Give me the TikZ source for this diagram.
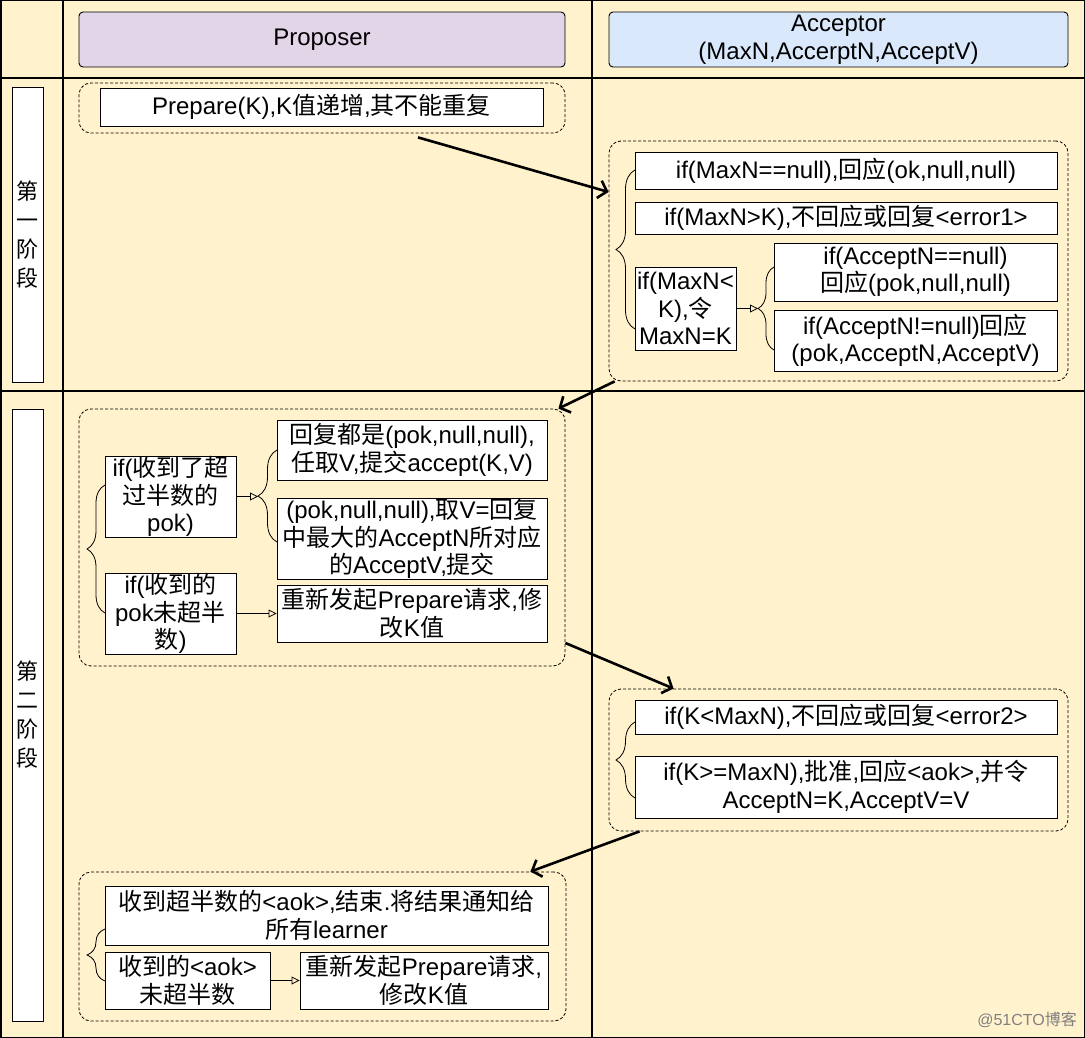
\documentclass[tikz,border=0pt]{standalone}
\usepackage{fontspec}
\setmainfont{Liberation Sans}
\newfontfamily\cjkfont{Noto Sans CJK SC}
\newcommand\zhx[1]{{\cjkfont #1}}
\usetikzlibrary{arrows.meta,decorations.pathreplacing}
\definecolor{bgy}{HTML}{FFF2CC}
\definecolor{pur}{HTML}{E1D5E7}
\definecolor{blu}{HTML}{DAE8FC}
\begin{document}
\begin{tikzpicture}[x=1pt,y=-1pt,
 txt/.style={font=\fontsize{24}{27.5}\selectfont},
 bx/.style={draw,fill=white,line width=0.9pt,align=center,inner sep=0pt,txt},
 hdr/.style={draw,rounded corners=4pt,line width=0.9pt,align=center,inner sep=0pt,txt},
 grp/.style={draw,dash pattern=on 3pt off 2pt,rounded corners=12pt,line width=0.8pt,inner sep=0pt},
 lab/.style={draw,fill=white,line width=1pt,align=center,inner sep=0pt,font=\fontsize{22}{29}\selectfont\cjkfont},
 big/.style={line width=2.6pt,-{Straight Barb[length=8pt,width=18pt]}},
 sm/.style={line width=0.8pt,-{Triangle[open,length=8pt,width=8pt]}},
 brc/.style={decorate,line width=0.8pt,decoration={brace,amplitude=#1}}
]
\useasboundingbox (0,0) rectangle (1085,1038);
% background grid
\fill[bgy] (0,0) rectangle (1085,1038);
\draw[line width=1.5pt] (0.75,0.75) rectangle (1084.25,1037.25);
\draw[line width=1.3pt] (63,0) -- (63,1038) (592,0) -- (592,1038)
  (0,78) -- (1085,78) (0,391) -- (1085,391);
% headers
\node[hdr,fill=pur,minimum width=486pt,minimum height=55pt] (hp) at (322,39.5) {Proposer};
\node[hdr,fill=blu,minimum width=459pt,minimum height=55pt] (ha) at (838.5,39.5) {Acceptor\\(MaxN,AccerptN,AcceptV)};
% phase labels
\node[lab,minimum width=31pt,minimum height=294pt] (l1) at (27.5,235) {第\\一\\阶\\段};
\node[lab,minimum width=31pt,minimum height=612pt] (l2) at (27.5,715) {第\\二\\阶\\段};
% groups
\node[grp,minimum width=486pt,minimum height=50pt] (d1) at (322,108) {};
\node[grp,minimum width=459pt,minimum height=240pt] (d2) at (838.5,261) {};
\node[grp,minimum width=486pt,minimum height=257pt] (d3) at (322,537.5) {};
\node[grp,minimum width=459pt,minimum height=142pt] (d4) at (838.5,760) {};
\node[grp,minimum width=487pt,minimum height=149pt] (d5) at (322.5,946.5) {};
% phase 1
\node[bx,minimum width=443pt,minimum height=38pt] (p1) at (321.5,107) {Prepare(K),K\zhx{值递增},\zhx{其不能重复}};
\node[bx,minimum width=422pt,minimum height=37pt] (a1) at (846,170.5) {if(MaxN==null),\zhx{回应}(ok,null,null)};
\node[bx,minimum width=422pt,minimum height=32pt] (a2) at (846,218) {if(MaxN>K),\zhx{不回应或回复}<error1>};
\node[bx,minimum width=101pt,minimum height=83pt] (a3) at (685.5,308.5) {if(MaxN<\\K),\zhx{令}\\MaxN=K};
\node[bx,minimum width=283pt,minimum height=58pt] (a4) at (915.5,272) {if(AcceptN==null)\\\zhx{回应}(pok,null,null)};
\node[bx,minimum width=283pt,minimum height=61pt] (a5) at (915.5,340.5) {if(AcceptN!=null)\zhx{回应}\\(pok,AcceptN,AcceptV)};
% phase 2 proposer
\node[bx,minimum width=131pt,minimum height=81pt] (q1) at (170.5,496.5) {if(\zhx{收到了超}\\\zhx{过半数的}\\pok)};
\node[bx,minimum width=270pt,minimum height=60pt] (q2) at (412,450) {\zhx{回复都是}(pok,null,null),\\\zhx{任取}V,\zhx{提交}accept(K,V)};
\node[bx,minimum width=270pt,minimum height=81pt] (q3) at (412,538.5) {(pok,null,null),\zhx{取}V=\zhx{回复}\\\zhx{中最大的}AcceptN\zhx{所对应}\\\zhx{的}AcceptV,\zhx{提交}};
\node[bx,minimum width=131pt,minimum height=81pt] (q4) at (170.5,613.5) {if(\zhx{收到的}\\pok\zhx{未超半}\\\zhx{数})};
\node[bx,minimum width=270pt,minimum height=57pt] (q5) at (412,613.5) {\zhx{重新发起}Prepare\zhx{请求},\zhx{修}\\\zhx{改}K\zhx{值}};
% phase 2 acceptor
\node[bx,minimum width=422pt,minimum height=34pt] (b1) at (846,717) {if(K<MaxN),\zhx{不回应或回复}<error2>};
\node[bx,minimum width=422pt,minimum height=62pt] (b2) at (846,787) {if(K>=MaxN),\zhx{批准},\zhx{回应}<aok>,\zhx{并令}\\AcceptN=K,AcceptV=V};
% phase 2 end
\node[bx,minimum width=443pt,minimum height=59pt] (r1) at (326.5,915.5) {\zhx{收到超半数的}<aok>,\zhx{结束}.\zhx{将结果通知给}\\\zhx{所有}learner};
\node[bx,minimum width=165pt,minimum height=57pt] (r2) at (187.5,980.5) {\zhx{收到的}<aok>\\\zhx{未超半数}};
\node[bx,minimum width=248pt,minimum height=57pt] (r3) at (424,980.5) {\zhx{重新发起}Prepare\zhx{请求},\\\zhx{修改}K\zhx{值}};
% braces
\draw[brc=19pt] (635,329) -- (635,170);
\draw[brc=16pt] (774,350) -- (774,267);
\draw[brc=18pt] (105,613) -- (105,485);
\draw[brc=19pt] (277,542) -- (277,450);
\draw[brc=19pt] (635,798) -- (635,722);
\draw[brc=18pt] (105,981) -- (105,929);
% small arrows
\coordinate (t1) at (758,308.5);
\coordinate (t2) at (258,496.5);
\draw[sm] (a3.east) -- (t1);
\draw[sm] (q1.east) -- (t2);
\draw[sm] (q4.east) -- (q5.west);
\draw[sm] (r2.east) -- (r3.west);
% big arrows
\draw[big] ([xshift=96pt,yshift=-4pt]d1.south) -- ([yshift=69pt]d2.west);
\draw[big] ([xshift=6pt]d2.south west) -- ([xshift=-7pt]d3.north east);
\draw[big] ([yshift=-105.5pt]d3.east) -- ([xshift=65pt]d4.north west);
\draw[big] ([xshift=31pt]d4.south west) -- ([xshift=-36pt]d5.north east);
% watermark
\node[anchor=east,text=gray,font=\fontsize{16}{19}\selectfont,inner sep=0pt] (wm) at (1077,1020) {@51CTO\zhx{博客}};
\end{tikzpicture}
\end{document}
